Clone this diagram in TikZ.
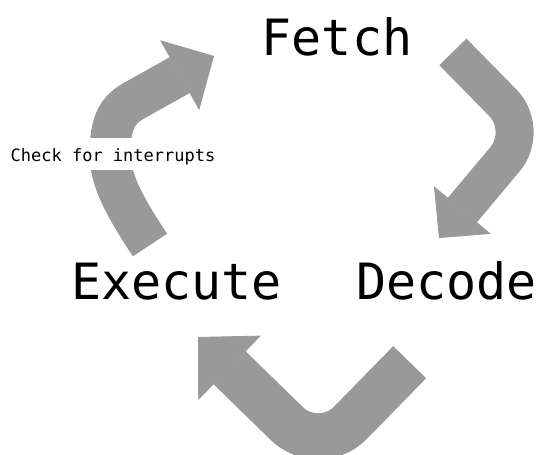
\documentclass[tikz,border=0pt]{standalone}
\usepackage{fontspec}
\newfontfamily\cyclefont{DejaVu Sans Mono}
\usetikzlibrary{arrows.meta}
\definecolor{arrowgray}{HTML}{999999}
\tikzset{
  stage/.style={font=\cyclefont\fontsize{50pt}{60pt}\selectfont, inner sep=0pt, anchor=base},
  note/.style={font=\cyclefont\fontsize{17pt}{20pt}\selectfont, fill=white, inner sep=0pt,
    text height=24pt, text depth=8.3pt, anchor=base},
  cycle arrow/.style={draw=arrowgray, line width=#1,
    -{Triangle[length=0pt 0.96, width=0pt 1.95, line width=0.8pt]}}
}
\begin{document}
\begin{tikzpicture}[x=1pt,y=-1pt]
\useasboundingbox (0,0) rectangle (544,455);
\clip (0,0) rectangle (544,455);

\node [stage] (fetch) at (337,55) {Fetch};
\node [stage] (decode) at (446.5,299) {Decode};
\node [stage] (execute) at (176.5,299) {Execute};

% ends of the three bent arrows
\coordinate (fetch-out) at (452.9,51.9);
\coordinate (decode-in) at (439,238);
\coordinate (decode-out) at (409.7,362.2);
\coordinate (execute-in) at (198,337);
\coordinate (execute-out) at (150,245);
\coordinate (fetch-in) at (214,56);

\draw [cycle arrow=38pt, rounded corners=38pt] (fetch-out) -- (529.5,130) -- (decode-in);
\draw [cycle arrow=46pt, rounded corners=45pt] (decode-out) -- (319,454.9) -- (execute-in);
\draw [cycle arrow=41pt] (execute-out) .. controls (120,200) and (109,175) .. (110,150)
  .. controls (111,118) and (120,108) .. (137,99) -- (fetch-in);

\node [note] (interrupts) at (113,161.7) {Check for interrupts};
\end{tikzpicture}
\end{document}
